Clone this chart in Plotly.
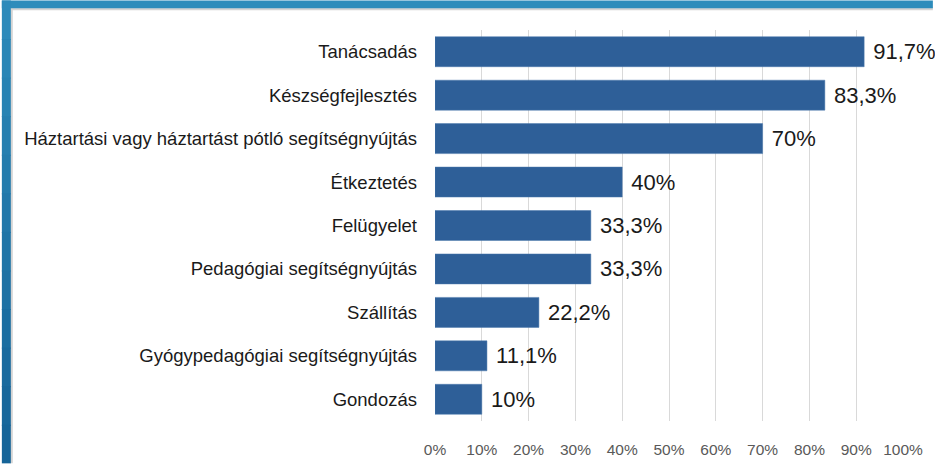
import plotly.graph_objects as go

categories = ["Tanácsadás", "Készségfejlesztés", "Háztartási vagy háztartást pótló segítségnyújtás",
              "Étkeztetés", "Felügyelet", "Pedagógiai segítségnyújtás", "Szállítás",
              "Gyógypedagógiai segítségnyújtás", "Gondozás"]
values = [91.7, 83.3, 70, 40, 33.3, 33.3, 22.2, 11.1, 10]
value_labels = ["91,7%", "83,3%", "70%", "40%", "33,3%", "33,3%", "22,2%", "11,1%", "10%"]
tick_vals = [0, 10, 20, 30, 40, 50, 60, 70, 80, 90, 100]
tick_text = [f"{v}%" for v in tick_vals]

W, H = 935, 470
L, R, T, B = 435, 905, 30, 427

fig = go.Figure(go.Bar(
    y=categories, x=values, orientation="h",
    marker=dict(color="#2e5f98", line=dict(color="#4a78ad", width=0.5)),
    text=["\u00a0" + t for t in value_labels], textposition="outside", cliponaxis=False,
    textfont=dict(family="Liberation Sans, Arial", size=22, color="#1a1a1a"),
    width=0.69,
))

def px(x):
    return (x - L) / (R - L)

def py(y):
    return (B - y) / (B - T)

shapes = []
# gray inner edge line
shapes.append(dict(type="rect", xref="paper", yref="paper", x0=px(8), x1=px(W), y0=py(10), y1=py(7),
                   fillcolor="#d4d4d4", line=dict(width=0), layer="above"))
shapes.append(dict(type="rect", xref="paper", yref="paper", x0=px(8), x1=px(11), y0=py(H), y1=py(7),
                   fillcolor="#d4d4d4", line=dict(width=0), layer="above"))
# blue frame, top
shapes.append(dict(type="rect", xref="paper", yref="paper", x0=px(0), x1=px(W), y0=py(8), y1=py(0),
                   fillcolor="#2d8cbb", line=dict(width=0), layer="above"))
# blue frame, left with a vertical gradient
n = 12
c0 = (0x2d, 0x8a, 0xba)
c1 = (0x15, 0x64, 0x98)
for i in range(n):
    f = i / (n - 1)
    c = tuple(int(c0[k] + (c1[k] - c0[k]) * f) for k in range(3))
    y0 = i * H / n
    y1 = min(H, (i + 1) * H / n + 1)
    shapes.append(dict(type="rect", xref="paper", yref="paper", x0=px(0), x1=px(9),
                       y0=py(y1), y1=py(y0),
                       fillcolor="rgb(%d,%d,%d)" % c, line=dict(width=0), layer="above"))

fig.update_layout(
    width=W, height=H,
    margin=dict(l=L, r=W - R, t=T, b=H - B, pad=0),
    paper_bgcolor="white", plot_bgcolor="white",
    showlegend=False,
    bargap=0.31,
    shapes=shapes,
    xaxis=dict(range=[0, 100], tickvals=tick_vals, ticktext=tick_text,
               showgrid=True, gridcolor="#d9d9d9", gridwidth=1, zeroline=False,
               showline=False, ticks="", ticklabelstandoff=17,
               tickfont=dict(family="Liberation Sans, Arial", size=15.5, color="#595959"),
               fixedrange=True),
    yaxis=dict(categoryorder="array", categoryarray=categories[::-1], autorange=True,
               showgrid=False, zeroline=False, showline=False, ticks="",
               ticklabelstandoff=17,
               tickfont=dict(family="Liberation Sans, Arial", size=18.5, color="#1a1a1a"),
               fixedrange=True),
    font=dict(family="Liberation Sans, Arial"),
)

fig.write_html("out.html", config={"displayModeBar": False},
               post_script="document.body.style.margin='0';document.body.style.overflow='hidden';")
